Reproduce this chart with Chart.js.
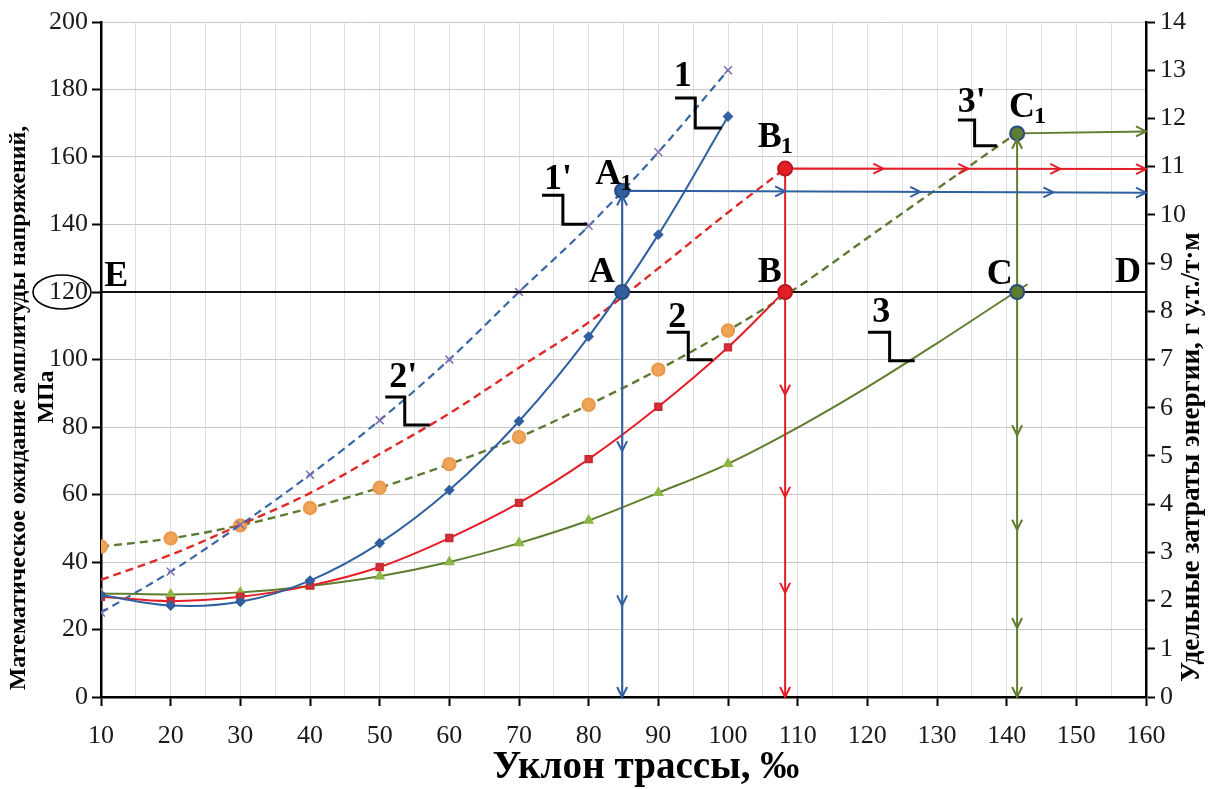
<!DOCTYPE html>
<html>
<head>
<meta charset="utf-8">
<script src="https://cdn.jsdelivr.net/npm/chart.js@4.4.1/dist/chart.umd.min.js"></script>
<style>
  html, body { margin: 0; padding: 0; background: #fff; }
</style>
</head>
<body>
<canvas id="chart" width="1209" height="789"></canvas>
<script>
// --- данные ---
const slope = [10, 20, 30, 40, 50, 60, 70, 80, 90, 100];

// сплошные кривые: амплитуда напряжений, МПа (левая ось)
const stress1X = slope;
const stress1 = [30.2, 27.1, 28.2, 34.5, 45.6, 61.3, 81.7, 106.8, 137, 172];
const stress2X = [10, 20, 30, 40, 50, 60, 70, 80, 90, 100, 108.2];
const stress2 = [29.7, 28.4, 29.7, 33, 38.5, 47.1, 57.5, 70.5, 86, 103.6, 120.4];
const stress3X = [10, 20, 30, 40, 50, 60, 70, 80, 90, 100, 110, 120, 130, 140, 143];
const stress3 = [30.7, 30.4, 31, 32.9, 35.8, 40, 45.6, 52.3, 60.5, 69.1, 79.8, 91.8, 104.8, 118.3, 122.3];

// пунктирные кривые: удельные затраты энергии (правая ось)
const energy1X = slope;
const energy1 = [1.75, 2.6, 3.57, 4.61, 5.74, 7.0, 8.4, 9.77, 11.3, 13.0];
const energy2X = [10, 20, 30, 40, 50, 60, 70, 80, 90, 100, 108.2];
const energy2 = [2.43, 2.95, 3.57, 4.23, 5.04, 5.88, 6.83, 7.77, 8.89, 10.05, 10.96];
const energy3X = [10, 20, 30, 40, 50, 60, 70, 80, 90, 100, 110, 120, 130, 140, 141.5];
const energy3 = [3.12, 3.29, 3.56, 3.92, 4.34, 4.83, 5.39, 6.06, 6.79, 7.6, 8.5, 9.52, 10.54, 11.55, 11.69];

// допустимый уровень напряжений и точки пересечения
const limitStress = 120;
const crossX = [84.8, 108.2, 141.5];          // A, B, C
const crossEnergy = [10.5, 10.96, 11.69];     // A1, B1, C1
const lineEndEnergy = [10.46, 10.95, 11.73];  // у правой оси

// стрелки на вспомогательных линиях (значения по правой оси / оси X)
const arrowsDown = [[5.1, 1.9, 0], [6.27, 4.15, 2.16, 0], [5.43, 3.47, 1.43, 0]];
const arrowsUp = [[10.4], [], [11.58]];
const arrowsRight = [[108.2, 127.6, 146.7, 160], [122.3, 134.5, 147.7, 160], [160]];

const xTicks = [10, 160, 10];
const yTicks = [0, 200, 20];
const y2Ticks = [0, 14, 1];

const BLUE = '#3060a0';
const RED = '#e41e26';
const GREEN = '#5e7d2e';
const SERIF = "'Liberation Serif', 'DejaVu Serif', serif";

// подписи точек и кривых
const pointLabels = [
    { t: 'E', x: 12.2, y: 124.4 },
    { t: 'A', x: 81.9, y: 125.6 },
    { t: 'A', sub: '1', x: 82.8, y: 154.7 },
    { t: 'B', x: 106.0, y: 125.6 },
    { t: 'B', sub: '1', x: 106.0, y: 165.6 },
    { t: 'C', x: 139.0, y: 125.0 },
    { t: 'C', sub: '1', x: 142.2, y: 174.5 },
    { t: 'D', x: 157.4, y: 125.6 }
];
const curveLabels = [
    { t: '1', x: 93.5, y: 183.7, leader: [[92.4, 177.5], [95.3, 177.5], [95.3, 168.6], [99.1, 168.6]] },
    { t: "1'", x: 75.6, y: 153.2, leader: [[73.3, 148.7], [76.3, 148.7], [76.3, 140.1], [79.8, 140.1]] },
    { t: "2'", x: 53.4, y: 94.5, leader: [[50.8, 88.9], [53.6, 88.9], [53.6, 80.6], [57.2, 80.6]] },
    { t: '2', x: 92.7, y: 112.3, leader: [[91.2, 108.1], [94.3, 108.1], [94.3, 99.9], [97.8, 99.9]] },
    { t: '3', x: 122.0, y: 113.8, leader: [[120.1, 108.1], [123.2, 108.1], [123.2, 99.6], [126.8, 99.6]] },
    { t: "3'", x: 135.0, y: 176.0, leader: [[133.0, 171], [135.4, 171], [135.4, 163.3], [138.6, 163.3]] }
];

function pts(xs, ys) {
    return xs.map((x, i) => ({ x: x, y: ys[i] }));
}

function marksOnly(n, r) {
    return ctx => ctx.dataIndex < n ? r : 0;
}

function curve(label, xs, ys, axis, color, opts) {
    return Object.assign({
        label: label,
        data: pts(xs, ys),
        yAxisID: axis,
        showLine: true,
        borderColor: color,
        borderWidth: 2,
        tension: 0.35,
        pointRadius: marksOnly(slope.length, 4),
        pointBackgroundColor: color,
        pointBorderColor: color,
        order: 5
    }, opts);
}

const datasets = [
    curve('1', stress1X, stress1, 'y', BLUE, { pointStyle: 'rectRot', pointRadius: marksOnly(10, 4) }),
    curve('2', stress2X, stress2, 'y', RED, { pointStyle: 'rect', pointRadius: marksOnly(10, 4.5), pointBackgroundColor: '#d8303a', pointBorderColor: '#c82a34' }),
    curve('3', stress3X, stress3, 'y', GREEN, { pointStyle: 'triangle', pointRadius: marksOnly(10, 4.5), pointBackgroundColor: '#8db644', pointBorderColor: '#8db644' }),
    curve("1'", energy1X, energy1, 'y2', '#3a66a6', { borderDash: [8, 5], borderWidth: 2.2, pointStyle: 'crossRot', pointRadius: marksOnly(10, 5.5), pointBorderColor: '#7b6fb8', pointBorderWidth: 1.5 }),
    curve("2'", energy2X, energy2, 'y2', '#e02a2a', { borderDash: [8, 5], borderWidth: 2.4, pointRadius: 0 }),
    curve("3'", energy3X, energy3, 'y2', '#5e7a34', { borderDash: [8, 5], borderWidth: 2.4, pointStyle: 'circle', pointRadius: marksOnly(10, 6), pointBackgroundColor: '#f0a458', pointBorderColor: '#eb9a4c', order: 6 })
];

// линия допустимого уровня E–D
datasets.push({
    data: pts([xTicks[0], xTicks[1]], [limitStress, limitStress]),
    yAxisID: 'y', showLine: true, borderColor: '#111', borderWidth: 2, pointRadius: 0, order: 4
});

// вспомогательные линии A–A1, B–B1, C–C1 и точки
[BLUE, RED, GREEN].forEach((color, i) => {
    datasets.push({
        data: pts([crossX[i], crossX[i], xTicks[1]], [0, crossEnergy[i], lineEndEnergy[i]]),
        yAxisID: 'y2', showLine: true, borderColor: color, borderWidth: 2, pointRadius: 0, order: 3
    });
    datasets.push({
        data: pts([crossX[i]], [limitStress]),
        yAxisID: 'y', pointRadius: 7, pointBackgroundColor: color, pointBorderColor: i === 1 ? '#b81820' : '#2a4c80', pointBorderWidth: 2, order: 1
    });
    datasets.push({
        data: pts([crossX[i]], [crossEnergy[i]]),
        yAxisID: 'y2', pointRadius: 7, pointBackgroundColor: color, pointBorderColor: i === 1 ? '#b81820' : '#2a4c80', pointBorderWidth: 2, order: 1
    });
});

function drawArrow(ctx, x, y, dir, color) {
    const L = 10, W = 5;
    ctx.save();
    ctx.strokeStyle = color;
    ctx.lineWidth = 2;
    ctx.beginPath();
    if (dir === 'down') {
        ctx.moveTo(x - W, y - L); ctx.lineTo(x, y); ctx.lineTo(x + W, y - L);
    } else if (dir === 'up') {
        ctx.moveTo(x - W, y + L); ctx.lineTo(x, y); ctx.lineTo(x + W, y + L);
    } else {
        ctx.moveTo(x - L, y - W); ctx.lineTo(x, y); ctx.lineTo(x - L, y + W);
    }
    ctx.stroke();
    ctx.restore();
}

function fitFont(ctx, text, target, weight) {
    ctx.font = weight + ' 20px ' + SERIF;
    const w = ctx.measureText(text).width;
    return 20 * target / w;
}

const decorPlugin = {
    id: 'decor',
    afterDatasetsDraw(chart) {
        const ctx = chart.ctx;
        const sx = chart.scales.x, sy = chart.scales.y, sy2 = chart.scales.y2;
        const colors = [BLUE, RED, GREEN];

        // стрелки
        colors.forEach((color, i) => {
            const px = sx.getPixelForValue(crossX[i]);
            arrowsDown[i].forEach(v => drawArrow(ctx, px, sy2.getPixelForValue(v), 'down', color));
            arrowsUp[i].forEach(v => drawArrow(ctx, px, sy2.getPixelForValue(v), 'up', color));
            arrowsRight[i].forEach(v => {
                const t = (v - crossX[i]) / (xTicks[1] - crossX[i]);
                const e = crossEnergy[i] + t * (lineEndEnergy[i] - crossEnergy[i]);
                drawArrow(ctx, sx.getPixelForValue(v), sy2.getPixelForValue(e), 'right', color);
            });
        });

        ctx.save();
        ctx.fillStyle = '#000';
        ctx.strokeStyle = '#000';
        ctx.textAlign = 'center';
        ctx.textBaseline = 'middle';

        // подписи кривых с выносками
        curveLabels.forEach(l => {
            ctx.font = 'bold 36px ' + SERIF;
            ctx.fillText(l.t, sx.getPixelForValue(l.x), sy.getPixelForValue(l.y));
            ctx.lineWidth = 3;
            ctx.beginPath();
            l.leader.forEach((p, k) => {
                const px = sx.getPixelForValue(p[0]), py = sy.getPixelForValue(p[1]);
                if (k === 0) ctx.moveTo(px, py); else ctx.lineTo(px, py);
            });
            ctx.stroke();
        });

        // буквенные обозначения точек
        pointLabels.forEach(l => {
            const px = sx.getPixelForValue(l.x), py = sy.getPixelForValue(l.y);
            ctx.font = 'bold 36px ' + SERIF;
            ctx.textAlign = 'center';
            ctx.fillText(l.t, px, py);
            if (l.sub) {
                const w = ctx.measureText(l.t).width;
                ctx.font = 'bold 24px ' + SERIF;
                ctx.textAlign = 'left';
                ctx.fillText(l.sub, px + w / 2 - 1, py + 9);
            }
        });
        ctx.restore();
    },
    afterDraw(chart) {
        const ctx = chart.ctx;
        const sy = chart.scales.y;
        ctx.save();
        ctx.fillStyle = '#000';
        ctx.textAlign = 'center';
        ctx.textBaseline = 'middle';

        // овал вокруг 120
        ctx.strokeStyle = '#000';
        ctx.lineWidth = 1.6;
        ctx.beginPath();
        ctx.ellipse(62, sy.getPixelForValue(limitStress), 29, 17, 0, 0, Math.PI * 2);
        ctx.stroke();

        // название оси X
        const xTitle = 'Уклон трассы, ‰';
        ctx.font = 'bold ' + fitFont(ctx, xTitle, 307, 'bold') + 'px ' + SERIF;
        ctx.fillText(xTitle, 646, 768);

        // левая ось
        const yTitle1 = 'Математическое ожидание амплитуды напряжений,';
        const f1 = fitFont(ctx, yTitle1, 565, 'bold');
        ctx.save();
        ctx.translate(19, 408);
        ctx.rotate(-Math.PI / 2);
        ctx.font = 'bold ' + f1 + 'px ' + SERIF;
        ctx.fillText(yTitle1, 0, 0);
        ctx.restore();
        ctx.save();
        ctx.translate(47, 397);
        ctx.rotate(-Math.PI / 2);
        ctx.font = 'bold ' + f1 + 'px ' + SERIF;
        ctx.fillText('МПа', 0, 0);
        ctx.restore();

        // правая ось
        const y2Title = 'Удельные затраты энергии, г у.т./т·м';
        ctx.save();
        ctx.translate(1192, 457);
        ctx.rotate(-Math.PI / 2);
        ctx.font = 'bold ' + fitFont(ctx, y2Title, 450, 'bold') + 'px ' + SERIF;
        ctx.fillText(y2Title, 0, 0);
        ctx.restore();
        ctx.restore();
    }
};

const tickFont = { family: SERIF, size: 26 };

new Chart(document.getElementById('chart'), {
    type: 'scatter',
    data: { datasets: datasets },
    options: {
        responsive: false,
        animation: false,
        events: [],
        layout: { padding: { top: 22, left: 0, right: 0, bottom: 0 } },
        plugins: { legend: { display: false }, tooltip: { enabled: false } },
        scales: {
            x: {
                type: 'linear', position: 'bottom', min: xTicks[0], max: xTicks[1],
                afterFit: s => { s.height = 92; },
                ticks: {
                    stepSize: xTicks[2] / 2, autoSkip: false, maxRotation: 0, padding: 15,
                    font: tickFont, color: '#1a1a1a',
                    callback: v => v % xTicks[2] === 0 ? v : ''
                },
                grid: {
                    color: '#dedede', lineWidth: 1, tickLength: 9, tickWidth: 2,
                    tickColor: c => (c.tick && c.tick.value % xTicks[2] === 0) ? '#000' : 'rgba(0,0,0,0)'
                },
                border: { color: '#000', width: 2.5 }
            },
            y: {
                position: 'left', min: yTicks[0], max: yTicks[1],
                afterFit: s => { s.width = 101; },
                ticks: { stepSize: yTicks[2], padding: 4, font: tickFont, color: '#1a1a1a' },
                grid: { color: '#c8c8c8', lineWidth: 1, tickLength: 9, tickWidth: 2, tickColor: '#000' },
                border: { color: '#000', width: 2.5 }
            },
            y2: {
                position: 'right', min: y2Ticks[0], max: y2Ticks[1],
                afterFit: s => { s.width = 63; },
                ticks: { stepSize: y2Ticks[2], padding: 5, font: tickFont, color: '#1a1a1a' },
                grid: { drawOnChartArea: false, tickLength: 9, tickWidth: 2, tickColor: '#000' },
                border: { color: '#000', width: 2.5 }
            }
        }
    },
    plugins: [decorPlugin]
});
</script>
</body>
</html>
